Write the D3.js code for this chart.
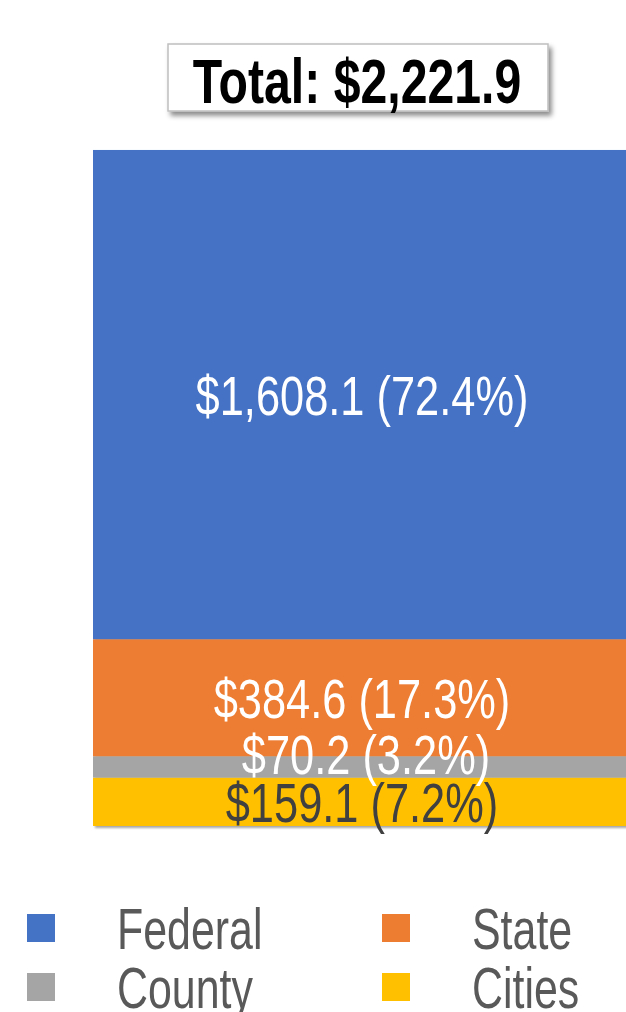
<!DOCTYPE html>
<html>
<head>
<meta charset="utf-8">
<script src="https://cdn.jsdelivr.net/npm/d3@7"></script>
<style>
  body { margin: 0; background: #fff; }
  svg { display: block; font-family: "Liberation Sans", Arial, sans-serif; }
</style>
</head>
<body>
<script>
var width = 626
var height = 1012

// data, stacked bottom to top
var levels = ["Cities", "County", "State", "Federal"]
var amounts = [159.1, 70.2, 384.6, 1608.1]
var total = 2221.9
var legendOrder = ["Federal", "State", "County", "Cities"]

var colors = {
    Federal: "#4472C4",
    State: "#ED7D31",
    County: "#A5A5A5",
    Cities: "#FFC000"
}
var labelColors = { Federal: "white", State: "white", County: "white", Cities: "#404040" }

var svg = d3.select("body")
    .append("svg")
    .attr("width", width)
    .attr("height", height)

var defs = svg.append("defs")
var shadow = defs.append("filter")
    .attr("id", "shadow")
    .attr("x", "-10%").attr("y", "-10%")
    .attr("width", "130%").attr("height", "140%")
shadow.append("feDropShadow")
    .attr("dx", 3).attr("dy", 4)
    .attr("stdDeviation", 2.5)
    .attr("flood-color", "#000")
    .attr("flood-opacity", 0.45)

var barShadow = defs.append("filter")
    .attr("id", "barShadow")
    .attr("x", "-5%").attr("y", "-5%")
    .attr("width", "110%").attr("height", "110%")
barShadow.append("feDropShadow")
    .attr("dx", 2).attr("dy", 2)
    .attr("stdDeviation", 0.8)
    .attr("flood-color", "#000")
    .attr("flood-opacity", 0.35)

var x = d3.scaleBand()
    .domain(["all"])
    .range([93, 631])
    .padding(0)

var y = d3.scaleLinear()
    .domain([0, total])
    .range([826, 150])

var rows = levels.map(function (name, i) { return { name: name, value: amounts[i] } })
var acc = 0
rows.forEach(function (d) {
    d.y0 = acc
    acc += d.value
    d.y1 = acc
})

var bar = svg.append("g").attr("filter", "url(#barShadow)")
bar.selectAll("rect")
    .data(rows)
    .enter()
    .append("rect")
    .attr("x", x("all"))
    .attr("width", x.bandwidth())
    .attr("y", function (d) { return y(d.y1) })
    .attr("height", function (d) { return y(d.y0) - y(d.y1) })
    .attr("fill", function (d) { return colors[d.name] })

var money = d3.format(",.1f")
var pct = d3.format(".1%")
var squeeze = 0.775

svg.append("g").selectAll("text")
    .data(rows)
    .enter()
    .append("text")
    .attr("transform", function (d) {
        var cx = x("all") + x.bandwidth() / 2
        var cy = (y(d.y0) + y(d.y1)) / 2 + 20
        // county label is pushed up a bit so it does not collide
        if (d.name === "County") { cx += 4; cy -= 13 }
        return "translate(" + cx + "," + cy + ") scale(" + squeeze + ",1)"
    })
    .attr("text-anchor", "middle")
    .attr("font-size", 56)
    .attr("fill", function (d) { return labelColors[d.name] })
    .text(function (d) { return "$" + money(d.value) + " (" + pct(d.value / total) + ")" })

// total box
var box = svg.append("g")
box.append("rect")
    .attr("x", 168).attr("y", 44)
    .attr("width", 380).attr("height", 67)
    .attr("fill", "white")
    .attr("stroke", "#bfbfbf")
    .attr("stroke-width", 1.5)
    .attr("filter", "url(#shadow)")
box.append("text")
    .attr("transform", "translate(357,103) scale(0.765,1)")
    .attr("text-anchor", "middle")
    .attr("font-size", 63)
    .attr("font-weight", "bold")
    .attr("fill", "black")
    .text("Total: $" + money(total))

// legend
var legend = svg.append("g")
    .selectAll("g")
    .data(legendOrder)
    .enter()
    .append("g")
    .attr("transform", function (d, i) {
        return "translate(" + (27 + (i % 2) * 355) + "," + (914 + Math.floor(i / 2) * 59) + ")"
    })

legend.append("rect")
    .attr("width", 28)
    .attr("height", 28)
    .attr("fill", function (d) { return colors[d] })

legend.append("text")
    .attr("transform", "translate(90,35) scale(0.74,1)")
    .attr("font-size", 58)
    .attr("fill", "#595959")
    .text(function (d) { return d })
</script>
</body>
</html>
